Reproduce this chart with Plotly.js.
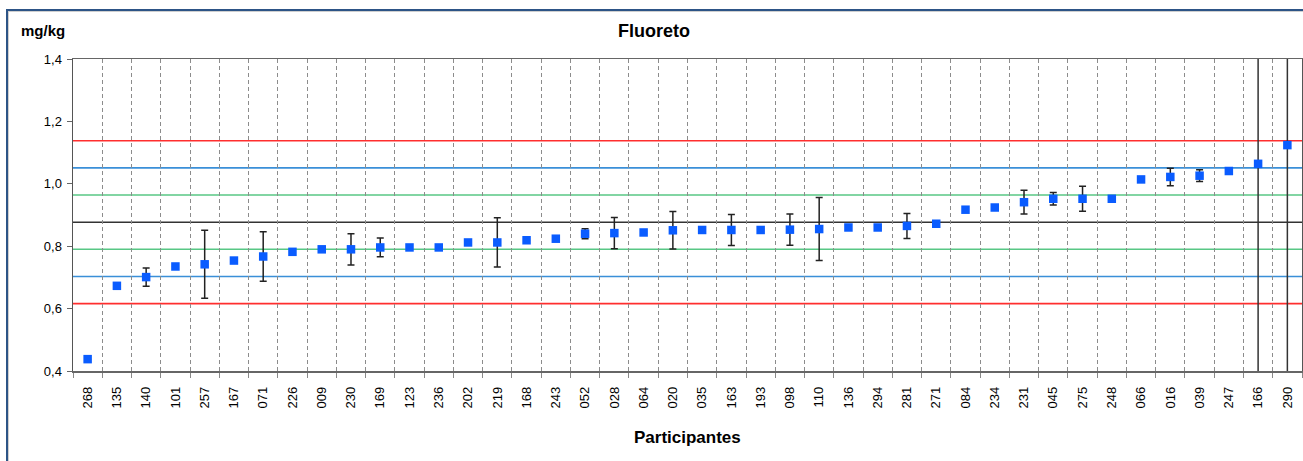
<!DOCTYPE html>
<html>
<head>
<meta charset="utf-8">
<script src="https://cdn.plot.ly/plotly-3.0.1.min.js"></script>
<style>
  html, body { margin: 0; padding: 0; background: #ffffff; }
  #wrap { position: relative; width: 1303px; height: 461px; overflow: hidden; }
  #chart { position: absolute; left: 0; top: 0; width: 1303px; height: 461px; }
  #frame { position: absolute; left: 6px; top: 9px; width: 1310px; height: 470px;
           border-top: 2px solid #2d5486; border-left: 2px solid #2d5486; pointer-events: none; }
  #frame2 { position: absolute; left: 8px; top: 11px; width: 1310px; height: 470px;
           border-top: 1px solid #cfcfcf; border-left: 1px solid #cfcfcf; pointer-events: none; }
</style>
</head>
<body>
<div id="wrap">
  <div id="chart"></div>
  <div id="frame"></div>
  <div id="frame2"></div>
</div>
<script>
// ---- data ----
const participants = ['268','135','140','101','257','167','071','226','009','230','169','123','236','202',
  '219','168','243','052','028','064','020','035','163','193','098','110','136','294','281','271',
  '084','234','231','045','275','248','066','016','039','247','166','290'];

const results = [0.438,0.673,0.701,0.735,0.742,0.754,0.767,0.782,0.790,0.790,0.796,0.796,0.796,0.812,
  0.812,0.819,0.824,0.840,0.842,0.844,0.851,0.852,0.852,0.852,0.853,0.855,0.860,0.860,0.865,0.872,
  0.917,0.924,0.941,0.952,0.952,0.952,1.014,1.022,1.026,1.041,1.064,1.124];

const uncertainties = [0,0.003,0.029,0,0.109,0.003,0.079,0,0,0.05,0.03,0,0,0,
  0.079,0,0,0.016,0.05,0.003,0.06,0,0.05,0.003,0.05,0.101,0.008,0.003,0.04,0,
  0.003,0.003,0.038,0.02,0.04,0.003,0,0.028,0.019,0,0,0];

const limitValues = [0.616,0.703,0.790,0.877,0.964,1.051,1.138];
const limitColors = ['#ff2e2e','#3a8fd8','#58c785','#333333','#58c785','#3a8fd8','#ff2e2e'];

const markedParticipants = ['166','290'];

const yTickValues = [0.4,0.6,0.8,1.0,1.2,1.4];

// ---- build chart ----
const FONT = 'Arial, "Liberation Sans", sans-serif';

const trace = {
  type: 'scatter',
  mode: 'markers',
  x: participants,
  y: results,
  marker: { symbol: 'square', size: 8.5, color: '#0a5cff' },
  error_y: { type: 'data', array: uncertainties, symmetric: true, visible: true,
             color: '#222222', thickness: 1.5, width: 3.5 },
  showlegend: false,
  hoverinfo: 'x+y'
};

const shapes = [];
limitValues.forEach((v, i) => {
  shapes.push({ type: 'line', xref: 'paper', yref: 'y', x0: 0, x1: 1, y0: v, y1: v,
    line: { color: limitColors[i], width: 1.6 }, layer: 'between' });
});
markedParticipants.forEach(p => {
  // category axes read numeric-looking strings as indices, so use the category index
  const idx = participants.indexOf(p);
  shapes.push({ type: 'line', xref: 'x', yref: 'paper', x0: idx, x1: idx, y0: 0, y1: 1,
    line: { color: '#333333', width: 1.5 }, layer: 'between' });
});

const layout = {
  width: 1303, height: 461,
  margin: { l: 73, r: 1, t: 59, b: 90 },
  paper_bgcolor: '#ffffff', plot_bgcolor: '#ffffff',
  separators: ',.',
  font: { family: FONT, size: 13, color: '#000000' },
  title: { text: '<b>Fluoreto</b>', xref: 'container', x: 0.502, xanchor: 'center',
           yref: 'container', y: 1 - 31/461, yanchor: 'middle',
           font: { family: FONT, size: 18, color: '#000000' } },
  xaxis: {
    type: 'category', categoryorder: 'array', categoryarray: participants,
    range: [-0.5, participants.length - 0.5],
    tickson: 'boundaries', ticks: 'outside', ticklen: 5, tickcolor: '#888888',
    ticklabelstandoff: 9,
    showgrid: true, gridcolor: '#8c8c8c', griddash: '4px,3px', gridwidth: 1,
    tickangle: -90, tickfont: { family: FONT, size: 13, color: '#000000' },
    showline: true, linecolor: '#666666', linewidth: 1.5, mirror: true,
    zeroline: false, fixedrange: true, automargin: false
  },
  yaxis: {
    range: [0.4, 1.4], tickvals: yTickValues, tickformat: '.1f',
    ticks: 'outside', ticklen: 5, tickcolor: '#666666',
    ticklabelstandoff: 2,
    showgrid: false, zeroline: false,
    tickfont: { family: FONT, size: 13, color: '#000000' },
    showline: true, linecolor: '#555555', linewidth: 1.5, mirror: true,
    fixedrange: true, automargin: false
  },
  shapes: shapes,
  annotations: [
    { text: '<b>mg/kg</b>', xref: 'paper', yref: 'paper', x: (42.5 - 73) / 1229, y: (371 - 30) / 312,
      xanchor: 'center', yanchor: 'middle', showarrow: false,
      font: { family: FONT, size: 15, color: '#000000' } },
    { text: '<b>Participantes</b>', xref: 'paper', yref: 'paper', x: 0.5, y: (371 - 438) / 312,
      xanchor: 'center', yanchor: 'middle', showarrow: false,
      font: { family: FONT, size: 17, color: '#000000' } }
  ]
};

Plotly.newPlot('chart', [trace], layout, { displayModeBar: false, staticPlot: true });
</script>
</body>
</html>
